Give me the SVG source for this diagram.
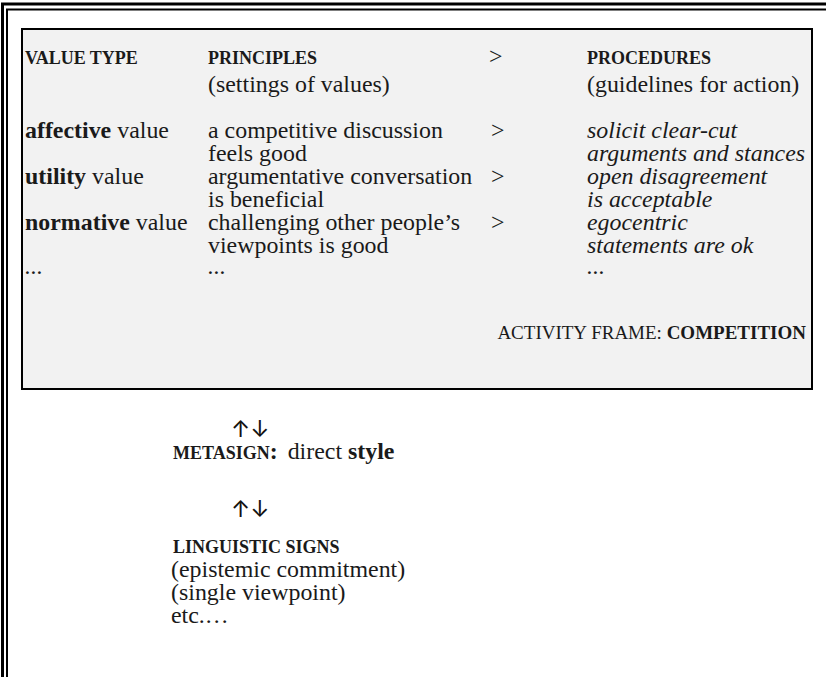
<svg xmlns="http://www.w3.org/2000/svg" width="826" height="677" viewBox="0 0 826 677">
<style>
text{font-family:"Liberation Serif","Times New Roman",serif;fill:#1a1a1a;}
.b{font-size:23.9px;}
.sc{font-size:18px;font-weight:bold;}
.bold{font-weight:bold;}
.i{font-style:italic;}
.arr{font-family:Inter,"DejaVu Sans",sans-serif;font-size:23px;fill:#111;}
</style>
<g id="frame" fill="none" stroke="#000">
<path d="M2.5 677V4H826" stroke-width="3"/>
<path d="M7 677V9.5H826" stroke-width="2"/>
</g>
<g id="activity-frame">
<rect x="22" y="29" width="790" height="360" fill="#f2f2f2" stroke="#000" stroke-width="2"/>
<text class="sc" x="25" y="64">VALUE TYPE</text>
<text class="sc" x="208" y="64">PRINCIPLES</text>
<text class="b" x="489" y="64">&gt;</text>
<text class="sc" x="587" y="64">PROCEDURES</text>
<text class="b" x="208" y="92">(settings of values)</text>
<text class="b" x="587" y="92">(guidelines for action)</text>

<text class="b" x="25" y="138"><tspan class="bold">affective</tspan> value</text>
<text class="b" x="208" y="138">a competitive discussion</text>
<text class="b" x="491" y="138">&gt;</text>
<text class="b i" x="587" y="138">solicit clear-cut</text>
<text class="b" x="208" y="161">feels good</text>
<text class="b i" x="587" y="161">arguments and stances</text>

<text class="b" x="25" y="184"><tspan class="bold">utility</tspan> value</text>
<text class="b" x="208" y="184">argumentative conversation</text>
<text class="b" x="491" y="184">&gt;</text>
<text class="b i" x="587" y="184">open disagreement</text>
<text class="b" x="208" y="207">is beneficial</text>
<text class="b i" x="587" y="207">is acceptable</text>

<text class="b" x="25" y="230"><tspan class="bold">normative</tspan> value</text>
<text class="b" x="208" y="230">challenging other people’s</text>
<text class="b" x="491" y="230">&gt;</text>
<text class="b i" x="587" y="230">egocentric</text>
<text class="b" x="208" y="253">viewpoints is good</text>
<text class="b i" x="587" y="253">statements are ok</text>

<text class="b i" x="25" y="274">...</text>
<text class="b i" x="208" y="274">...</text>
<text class="b i" x="587" y="274">...</text>

<text x="806" y="339" text-anchor="end" style="font-size:19px">ACTIVITY FRAME: <tspan class="bold">COMPETITION</tspan></text>
</g>
<g id="metasign">
<text class="arr" x="231" y="437">↑↓</text>
<text x="173" y="459"><tspan class="sc">METASIGN</tspan><tspan class="b bold">:</tspan><tspan class="b" dx="10">direct </tspan><tspan class="b bold">style</tspan></text>
</g>
<g id="linguistic-signs">
<text class="arr" x="231" y="517">↑↓</text>
<text class="sc" x="173" y="553">LINGUISTIC SIGNS</text>
<text class="b" x="171" y="577">(epistemic commitment)</text>
<text class="b" x="171" y="600">(single viewpoint)</text>
<text class="b" x="171" y="623">etc.…</text>
</g>
</svg>
